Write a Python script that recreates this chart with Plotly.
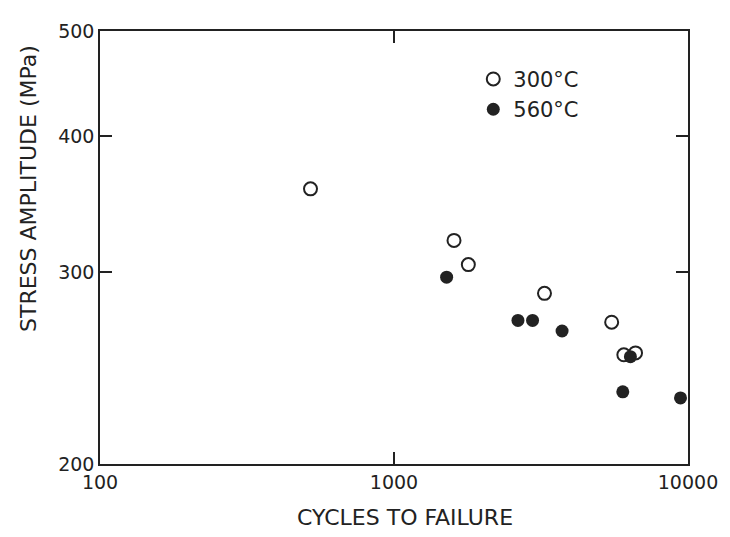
import plotly.graph_objects as go

# Data (log-log S-N chart)
open_cycles = [520, 1600, 1790, 3250, 5500, 6050, 6630]
open_stress = [358, 321, 305, 287, 270, 252, 253]
filled_cycles = [1510, 2640, 2960, 3730, 6370, 6000, 9430]
filled_stress = [297, 271, 271, 265, 251, 233, 230]

x_ticks = [100, 1000, 10000]
x_tick_labels = ["100", "1000", "10000"]
y_ticks = [200, 300, 400, 500]
y_tick_labels = ["200", "300", "400", "500"]

INK = "#222222"
FONT = "DejaVu Sans"

fig = go.Figure()
fig.add_trace(go.Scatter(
    x=open_cycles, y=open_stress, mode="markers", name="300°C",
    marker=dict(symbol="circle-open", size=13, color=INK, line=dict(width=2, color=INK)),
    cliponaxis=False,
))
fig.add_trace(go.Scatter(
    x=filled_cycles, y=filled_stress, mode="markers", name="560°C",
    marker=dict(symbol="circle", size=13, color=INK),
    cliponaxis=False,
))

# The page body has an 8px margin, so the figure is sized to fit the window.
OFF = 8
W, H = 730 - OFF, 537 - OFF
# target plot area in screenshot pixels
SL, SR, ST, SB = 100, 697, 28, 464
L, T = SL - OFF, ST - OFF
R, B = W - (SR - OFF), H - (SB - OFF)
pw, ph = W - L - R, H - T - B

def px_x(sx):
    return (sx - OFF - L) / pw

def px_y(sy):
    return (H - B - (sy - OFF)) / ph

fig.update_layout(
    width=W, height=H,
    margin=dict(l=L, r=R, t=T, b=B),
    paper_bgcolor="white", plot_bgcolor="white",
    font=dict(family=FONT, color=INK, size=19),
    showlegend=True,
    legend=dict(
        x=px_x(479), y=px_y(56), xanchor="left", yanchor="top",
        font=dict(size=21, family=FONT, color=INK),
        bgcolor="rgba(0,0,0,0)", itemwidth=30, tracegroupgap=0,
    ),
    xaxis=dict(
        type="log", range=[2, 4], tickvals=x_ticks, ticktext=x_tick_labels,
        showgrid=False, zeroline=False, showline=True, linecolor=INK, linewidth=1.5,
        mirror="ticks", ticks="inside", ticklen=12, tickwidth=1.5, tickcolor=INK,
        tickfont=dict(size=19, family=FONT, color=INK),
    ),
    yaxis=dict(
        type="log", range=[2.30103, 2.69897], tickvals=y_ticks, ticktext=y_tick_labels,
        showgrid=False, zeroline=False, showline=True, linecolor=INK, linewidth=1.5,
        mirror="ticks", ticks="inside", ticklen=12, tickwidth=1.5, tickcolor=INK,
        tickfont=dict(size=19, family=FONT, color=INK),
    ),
    annotations=[
        dict(text="STRESS AMPLITUDE (MPa)", xref="paper", yref="paper",
             x=px_x(28), y=px_y(187), xanchor="center", yanchor="middle",
             textangle=-90, showarrow=False, font=dict(size=22, family=FONT, color=INK)),
        dict(text="CYCLES TO FAILURE", xref="paper", yref="paper",
             x=px_x(410), y=px_y(518), xanchor="center", yanchor="middle",
             showarrow=False, font=dict(size=22, family=FONT, color=INK)),
    ],
)

fig.write_html("out.html")
